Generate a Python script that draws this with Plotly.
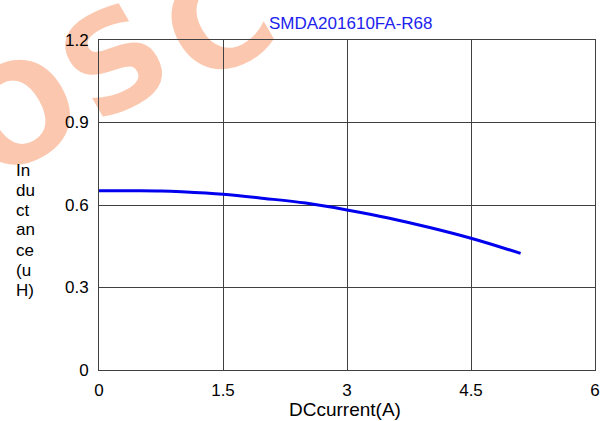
import plotly.graph_objects as go

# Data
current_a = [0.0, 0.5, 0.75, 1.0, 1.5, 2.0, 2.5, 3.0, 3.5, 4.0, 4.5, 5.1]
inductance_uh = [0.652, 0.652, 0.651, 0.648, 0.639, 0.624, 0.607, 0.582, 0.553, 0.518, 0.479, 0.424]
x_ticks = [0, 1.5, 3, 4.5, 6]
x_tick_labels = ["0", "1.5", "3", "4.5", "6"]
y_ticks = [0, 0.3, 0.6, 0.9, 1.2]
y_tick_labels = ["0", "0.3", "0.6", "0.9", "1.2"]
title_text = "SMDA201610FA-R68"
x_title = "DCcurrent(A)"
y_title_lines = ["In", "du", "ct", "an", "ce", "(u", "H)"]
watermark_letters = ["O", "S", "C"]

FONT = "Liberation Sans, Arial, sans-serif"
GRID = "#404040"

W, H = 607, 421
# plot area in page pixels
PL, PR, PT, PB = 99, 595, 40, 370


def px_to_paper(px, py):
    return (px - PL) / (PR - PL), (PB - py) / (PB - PT)


fig = go.Figure()
fig.add_trace(go.Scatter(
    x=current_a, y=inductance_uh, mode="lines",
    line=dict(color="#0000EE", width=3, shape="spline"),
    hoverinfo="skip", showlegend=False,
))

fig.update_layout(
    width=W, height=H,
    margin=dict(l=PL, r=W - PR, t=PT, b=H - PB, autoexpand=False),
    paper_bgcolor="white", plot_bgcolor="rgba(0,0,0,0)",
    font=dict(family=FONT, size=17, color="#000000"),
    showlegend=False,
)
fig.update_xaxes(
    range=[0, 6], tickvals=x_ticks, ticktext=x_tick_labels,
    showgrid=True, gridcolor=GRID, gridwidth=1,
    showline=True, linecolor=GRID, linewidth=1, mirror=True,
    zeroline=False, ticks="", tickfont=dict(size=17), ticklabelstandoff=5,
    automargin=False,
)
fig.update_yaxes(
    range=[0, 1.2], tickvals=y_ticks, ticktext=y_tick_labels,
    showgrid=True, gridcolor=GRID, gridwidth=1,
    showline=True, linecolor=GRID, linewidth=1, mirror=True,
    zeroline=False, ticks="", tickfont=dict(size=17), ticklabelstandoff=6,
    automargin=False,
)

# Title
tx, ty = px_to_paper(350, 23)
fig.add_annotation(text=title_text, xref="paper", yref="paper",
                   x=tx, y=ty, xanchor="center", yanchor="middle",
                   showarrow=False, font=dict(size=17, color="#2222EE", family=FONT))

# X axis title
xx, xy = px_to_paper(345, 410)
fig.add_annotation(text=x_title, xref="paper", yref="paper",
                   x=xx, y=xy, xanchor="center", yanchor="middle",
                   showarrow=False, font=dict(size=19, color="#000000", family=FONT))

# Y axis title, broken over lines
for i, s in enumerate(y_title_lines):
    ax, ay = px_to_paper(14, 170 + 20 * i)
    fig.add_annotation(text=s, xref="paper", yref="paper", x=ax, y=ay,
                       xanchor="left", yanchor="middle", showarrow=False,
                       font=dict(size=17, color="#000000", family=FONT))

# Watermark behind the grid
wm_centers = [(14, 106), (110, 53), (213, 15)]
for letter, (wx, wy) in zip(watermark_letters, wm_centers):
    cx, cy = px_to_paper(wx, wy)
    fig.add_shape(type="rect", xref="paper", yref="paper",
                  x0=cx - 0.005, x1=cx + 0.005, y0=cy - 0.005, y1=cy + 0.005,
                  line=dict(width=0), fillcolor="rgba(0,0,0,0)", layer="below",
                  label=dict(text=letter, textangle=-30, textposition="middle center",
                             font=dict(size=135, color="rgb(251,200,175)",
                                       family="DejaVu Sans", weight="bold")))

fig.write_html("out.html", config={"displayModeBar": False},
               post_script="document.body.style.margin='0';")
